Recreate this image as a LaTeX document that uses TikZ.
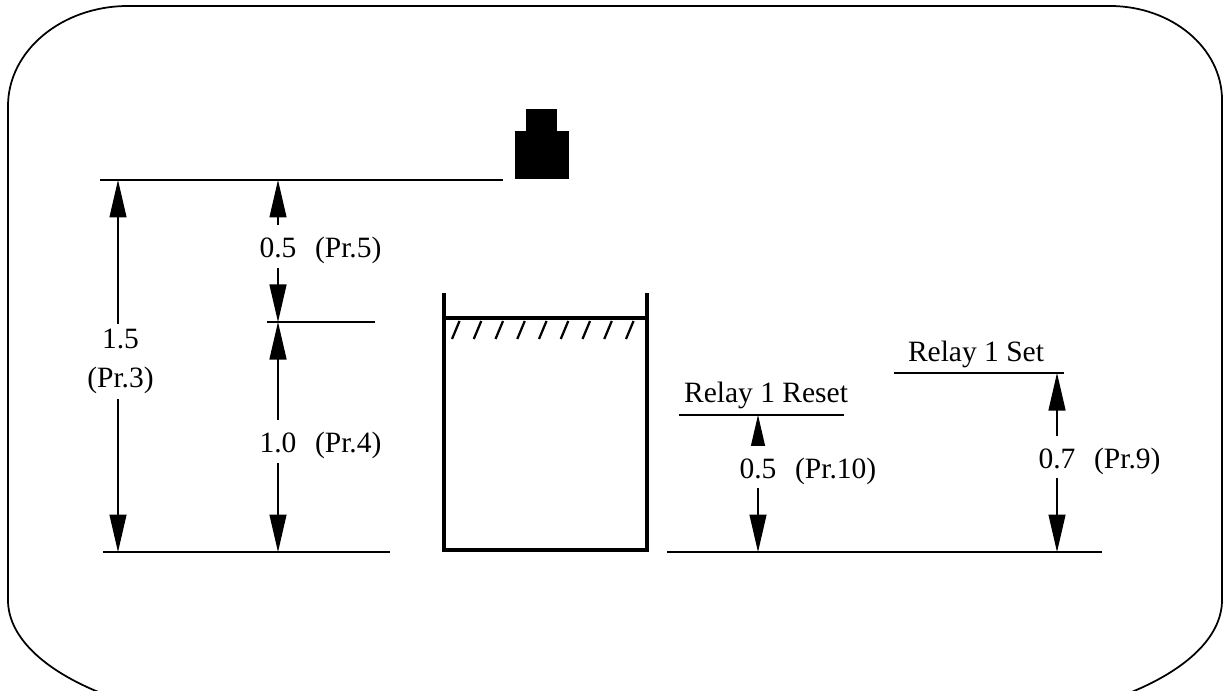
\documentclass[tikz,border=0pt]{standalone}
\usepackage{fontspec}
\setmainfont{Liberation Serif}
\usetikzlibrary{arrows.meta, positioning}

\tikzset{
  dimarrow/.style={line width=0.5pt, {Triangle[length=15pt,width=6.8pt]}-{Triangle[length=15pt,width=6.8pt]}},
  levelline/.style={line width=0.6pt},
  wall/.style={line width=1.7pt, line join=miter},
  hatchline/.style={line width=0.9pt},
  txt/.style={font=\fontsize{11.8}{15.6}\selectfont},
  val/.style={txt, fill=white, inner xsep=1pt, inner ysep=1pt, text height=12pt, text depth=3pt},
  prlabel/.style={txt, inner xsep=1pt, inner ysep=1pt, text height=12pt, text depth=3pt},
}

\begin{document}
\begin{tikzpicture}[x=0.4pt, y=-0.4pt]
\useasboundingbox (0,0) rectangle (1223,691);

% Vertical positions (pixels, downwards)
\def\yTop{180}
\def\yMid{322}
\def\yBase{552}
\def\yReset{415}
\def\ySet{373}

% Outer frame, its bottom edge runs off the page
\draw[line width=0.7pt] (8,106) -- (8,600)
  arc[start angle=180, end angle=90, x radius=280, y radius=125]
  -- (942,725)
  arc[start angle=90, end angle=0, x radius=280, y radius=125]
  -- (1222,100)
  arc[start angle=0, end angle=-90, x radius=112, y radius=94]
  -- (128,6)
  arc[start angle=-90, end angle=-180, x radius=120, y radius=100]
  -- cycle;

% Sensor head
\fill (526,109) rectangle (557,131);
\fill (515,131) rectangle (569,179);

% Level lines
\coordinate (topW) at (100,\yTop);   \coordinate (topE) at (503,\yTop);
\coordinate (midW) at (267,\yMid);   \coordinate (midE) at (375,\yMid);
\coordinate (baseW) at (103,\yBase); \coordinate (baseE) at (390,\yBase);
\coordinate (relW) at (667,\yBase);  \coordinate (relE) at (1102,\yBase);
\coordinate (resW) at (679,\yReset); \coordinate (resE) at (844,\yReset);
\coordinate (setW) at (894,\ySet);   \coordinate (setE) at (1064,\ySet);

\draw[levelline] (topW) -- (topE);
\draw[levelline] (midW) -- (midE);
\draw[levelline] (baseW) -- (baseE);
\draw[levelline] (relW) -- (relE);
\draw[levelline] (resW) -- node[txt, above, inner sep=2.2pt, xshift=1.8pt] (reset) {Relay 1 Reset} (resE);
\draw[levelline] (setW) -- node[txt, above, inner sep=1.8pt, xshift=-1.2pt] (set) {Relay 1 Set} (setE);

% Tank with liquid surface
\draw[wall] (444,293) -- (444,550) -- (647,550) -- (647,293);
\draw[line width=1.3pt] (444,318) -- (647,318);
\foreach \i in {0,...,8}
  \draw[hatchline] (452+\i*21.75,339) -- ++(7.5,-18);

% Dimension arrows
\coordinate (pr3top) at (118,\yTop);  \coordinate (pr3bot) at (118,\yBase);
\coordinate (pr5top) at (278,\yTop);  \coordinate (pr5bot) at (278,\yMid);
\coordinate (pr4top) at (278,\yMid);  \coordinate (pr4bot) at (278,\yBase);
\coordinate (pr10top) at (758,\yReset); \coordinate (pr10bot) at (758,\yBase);
\coordinate (pr9top) at (1057,\ySet); \coordinate (pr9bot) at (1057,\yBase);

\draw[dimarrow] (pr3top) -- node[txt, fill=white, align=center, inner xsep=1pt, inner ysep=2.2pt, pos=0.488, xshift=1pt] (v3) {1.5\\(Pr.3)} (pr3bot);

\draw[dimarrow] (pr5top) -- node[val, pos=0.47] (v5) {0.5} (pr5bot);
\node[prlabel, right=5pt of v5] (p5) {(Pr.5)};

\draw[dimarrow] (pr4top) -- node[val, pos=0.52] (v4) {1.0} (pr4bot);
\node[prlabel, right=5pt of v4] (p4) {(Pr.4)};

\draw[dimarrow] (pr10top) -- node[val, pos=0.38] (v10) {0.5} (pr10bot);
\node[prlabel, right=5pt of v10] (p10) {(Pr.10)};

\draw[dimarrow] (pr9top) -- node[val, pos=0.47] (v9) {0.7} (pr9bot);
\node[prlabel, right=5pt of v9] (p9) {(Pr.9)};

\end{tikzpicture}
\end{document}
